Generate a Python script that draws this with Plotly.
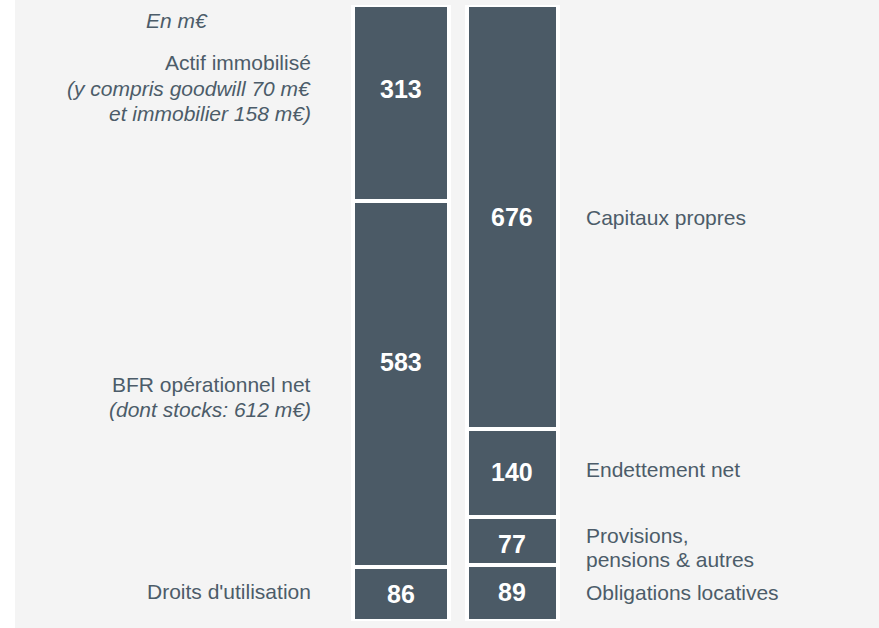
import plotly.graph_objects as go

# ---------------- data ----------------
left_segments = ["Droits d'utilisation", "BFR opérationnel net", "Actif immobilisé"]
left_values = [86, 583, 313]
right_segments = ["Obligations locatives", "Provisions, pensions & autres", "Endettement net", "Capitaux propres"]
right_values = [89, 77, 140, 676]
unit_label = "En m€"

left_texts = [
    ["Droits d'utilisation"],
    ["BFR opérationnel net", "<i>(dont stocks: 612 m€)</i>"],
    ["Actif immobilisé", "<i>(y compris goodwill 70 m€</i>", "<i>et immobilier 158 m€)</i>"],
]
right_texts = [
    ["Obligations locatives"],
    ["Provisions,", "pensions & autres"],
    ["Endettement net"],
    ["Capitaux propres"],
]

# ---------------- layout / style ----------------
W, H = 879, 628
M_L, M_R, M_T, M_B = 15, 0, 5, 7
BAR = "#4b5a66"
TXT = "#4c5c69"
BG = "#f4f4f4"
FONT = "Liberation Sans, Arial, sans-serif"
LBL_SIZE = 21
NUM_SIZE = 25

total = sum(left_values)
plot_h = H - M_T - M_B
plot_w = W - M_L - M_R


def py2d(py):
    return (H - M_B - py) * total / plot_h


def px2p(px):
    return (px - M_L) / plot_w


fig = go.Figure()

bar_x = [0, 1]
bar_w = [0.858, 0.819]
for xi, vals, wdt in [(bar_x[0], left_values, bar_w[0]), (bar_x[1], right_values, bar_w[1])]:
    for v in vals:
        fig.add_trace(go.Bar(
            x=[xi], y=[v], width=[wdt],
            marker=dict(color=BAR, line=dict(color="white", width=4.5)),
            hoverinfo="skip", showlegend=False, cliponaxis=False,
        ))

# value labels inside the bars (relative position within each segment)
left_frac = [0.5, 0.56, 0.57]
right_frac = [0.52, 0.44, 0.51, 0.5]
annotations = []
for xi, vals, fr in [(bar_x[0], left_values, left_frac), (bar_x[1], right_values, right_frac)]:
    base = 0
    for v, f in zip(vals, fr):
        annotations.append(dict(
            x=xi, y=base + f * v, xref="x", yref="y", text=f"<b>{v}</b>",
            showarrow=False, font=dict(family=FONT, size=NUM_SIZE, color="white"),
            xanchor="center", yanchor="middle",
        ))
        base += v

# side labels (pixel line centres)
left_line_py = [[591], [384, 409], [62, 88, 113]]
right_line_py = [[592], [535, 559], [469], [217]]

for lines, pys in zip(left_texts, left_line_py):
    for t, py in zip(lines, pys):
        annotations.append(dict(
            x=px2p(313), y=py2d(py), xref="paper", yref="y", text=t,
            showarrow=False, font=dict(family=FONT, size=LBL_SIZE, color=TXT),
            xanchor="right", yanchor="middle",
        ))
for lines, pys in zip(right_texts, right_line_py):
    for t, py in zip(lines, pys):
        annotations.append(dict(
            x=px2p(584), y=py2d(py), xref="paper", yref="y", text=t,
            showarrow=False, font=dict(family=FONT, size=LBL_SIZE, color=TXT),
            xanchor="left", yanchor="middle",
        ))

annotations.append(dict(
    x=px2p(177), y=py2d(20), xref="paper", yref="y", text=f"<i>{unit_label}</i>",
    showarrow=False, font=dict(family=FONT, size=LBL_SIZE, color=TXT),
    xanchor="center", yanchor="middle",
))

x0 = bar_x[0]
ppu = 111.5
fig.update_layout(
    width=W, height=H,
    margin=dict(l=M_L, r=M_R, t=M_T, b=M_B, pad=0),
    paper_bgcolor=BG, plot_bgcolor=BG,
    barmode="stack", bargap=0,
    xaxis=dict(range=[(M_L - 400.8) / ppu + x0, (W - 400.8) / ppu + x0], visible=False, fixedrange=True),
    yaxis=dict(range=[0, total], visible=False, fixedrange=True),
    annotations=annotations,
    shapes=[dict(type="rect", xref="paper", yref="paper",
                 x0=-M_L / plot_w, x1=0, y0=-M_B / plot_h, y1=1 + M_T / plot_h,
                 fillcolor="white", line=dict(width=0), layer="below")],
    showlegend=False,
)

fig.write_html(
    "out.html",
    config={"displayModeBar": False},
    post_script="document.body.style.margin='0';document.body.style.overflow='hidden';",
)
